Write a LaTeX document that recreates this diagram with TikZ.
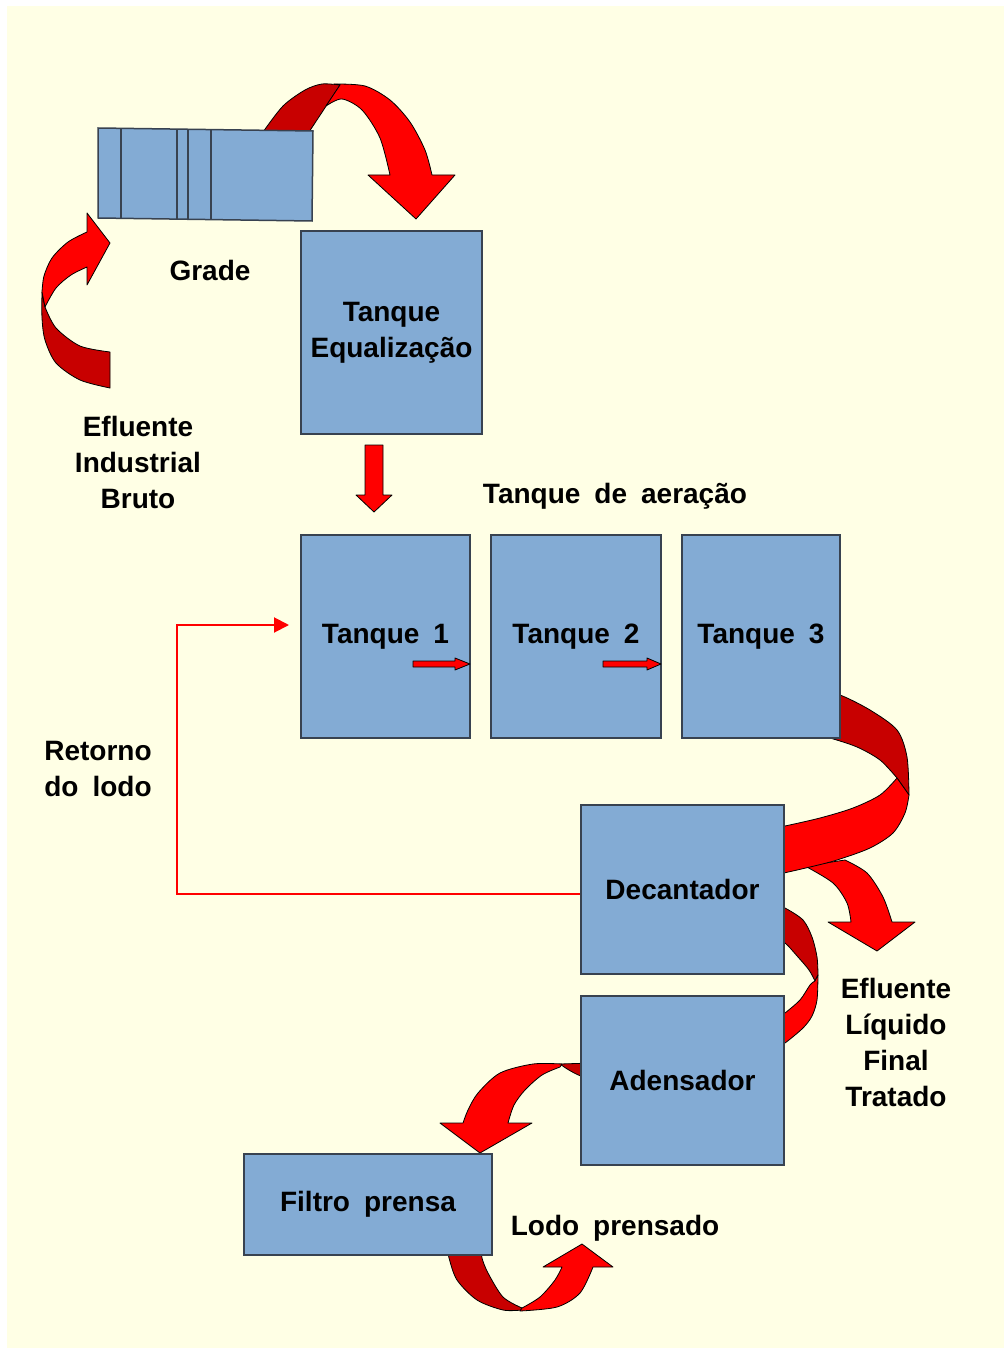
\documentclass[tikz,border=0pt]{standalone}
\usepackage{fontspec}
\setmainfont{Liberation Sans}[WordSpace=1.8]
\usetikzlibrary{arrows.meta}
\definecolor{bg}{RGB}{255,255,229}
\definecolor{boxblue}{RGB}{131,171,212}
\definecolor{boxline}{RGB}{56,66,80}
\definecolor{rred}{RGB}{255,0,0}
\definecolor{dred}{RGB}{200,0,0}
\begin{document}
\begin{tikzpicture}[x=1pt,y=-1pt,
  blk/.style={draw=boxline, fill=boxblue, line width=1.5pt, inner sep=0pt, align=center,
    font=\fontsize{28}{36}\selectfont\bfseries},
  lbl/.style={inner sep=0pt, align=center, font=\fontsize{28}{36}\selectfont\bfseries},
  rib/.style={fill=rred, draw=black, line width=0.8pt, line join=round},
  ribd/.style={fill=dred, draw=black, line width=0.8pt, line join=round},
  ret/.style={draw=rred, line width=2pt, -{Triangle[length=15pt,width=15pt]}}
]
\useasboundingbox (0,0) rectangle (1004,1348);
\fill[bg] (7,6) rectangle (1004,1348);

% ---- left curved arrow (Efluente -> Grade)
\filldraw[ribd] plot[smooth] coordinates {(110,388) (80,380) (56,363) (45,340) (42,318) (42,292)}
  -- plot[smooth] coordinates {(45,307) (56,328) (80,346) (110,352)} -- cycle;
\filldraw[rib] plot[smooth] coordinates {(42,292) (44,276) (52,258) (68,242) (87,232)}
  -- (87,213) -- (110,243) -- (87,285)
  -- plot[smooth] coordinates {(87,267) (71,275) (56,288) (45,307)} -- cycle;

% ---- top curved arrow (Grade -> Equalizacao)
\filldraw[ribd] plot[smooth] coordinates {(263,132) (283,106) (305,90) (322,84) (340,85)}
  -- (309,132) -- cycle;
\filldraw[rib] plot[smooth] coordinates {(334,84) (365,86) (390,100) (410,122) (425,150) (432,175)}
  -- (455,175) -- (416,219) -- (368,175)
  -- plot[smooth] coordinates {(390,175) (380,138) (362,110) (342,99) (326,106)} -- (340,85) -- cycle;

% ---- Grade
\filldraw[draw=boxline, fill=boxblue, line width=1.5pt] (98,128) -- (313,131) -- (312,221) -- (98,218) -- cycle;
\draw[boxline, line width=1.5pt] (121,128.3) -- (121,218.3) (177,129.1) -- (177,219.1)
  (188,129.3) -- (188,219.3) (211,129.6) -- (211,219.6);

% ---- Tanque3 -> Decantador ribbon with branch
\filldraw[rib] plot[smooth] coordinates {(805,866) (833,883) (847,903) (851,922)}
  -- (828,922) -- (877,951) -- (915,922) -- (892,922)
  -- plot[smooth] coordinates {(892,922) (883,897) (867,873) (845,860)} -- cycle;
\filldraw[ribd] plot[smooth] coordinates {(820,692) (840,695) (870,710) (897,730) (907,757) (909,795)}
  -- plot[smooth] coordinates {(897,778) (880,760) (857,747) (830,738) (820,736)} -- cycle;
\filldraw[rib] plot[smooth] coordinates {(909,795) (905,813) (893,833) (870,848) (837,860) (810,867) (775,875)}
  -- (775,828)
  -- plot[smooth] coordinates {(785,826) (820,818) (853,808) (880,795) (897,778)} -- cycle;

% ---- Decantador -> Adensador ribbon
\filldraw[ribd] plot[smooth] coordinates {(775,905) (785,908) (803,920) (812,937) (817,957) (818,975)}
  -- plot[smooth] coordinates {(815,981) (809,970) (798,957) (785,943) (775,940)} -- cycle;
\filldraw[rib] plot[smooth] coordinates {(818,975) (817,1000) (812,1016) (803,1028) (785,1043) (775,1048)}
  -- (775,1015)
  -- plot[smooth] coordinates {(785,1013) (800,1000) (810,985) (815,981)} -- cycle;

% ---- Adensador -> Filtro ribbon
\filldraw[ribd] (592,1063) -- (560,1064) .. controls (568,1070) and (578,1076) .. (592,1080) -- cycle;
\filldraw[rib] plot[smooth] coordinates {(562,1064) (533,1064) (500,1073) (478,1093) (468,1110) (463,1123)}
  -- (440,1123) -- (480,1153) -- (532,1123)
  -- plot[smooth] coordinates {(508,1123) (514,1105) (525,1090) (542,1075) (560,1067)} -- cycle;

% ---- Filtro -> Lodo prensado ribbon
\filldraw[ribd] plot[smooth] coordinates {(448,1250) (449,1258) (457,1280) (477,1300) (503,1310) (522,1310)}
  -- plot[smooth] coordinates {(522,1308) (503,1297) (488,1273) (482,1258) (482,1250)} -- cycle;
\filldraw[rib] plot[smooth] coordinates {(520,1311) (557,1307) (580,1293) (593,1267)}
  -- (613,1267) -- (582,1244) -- (543,1267)
  -- plot[smooth] coordinates {(562,1267) (555,1280) (540,1297) (522,1308)} -- cycle;

% ---- boxes
\node[blk, minimum width=181pt, minimum height=203pt] (eq) at (391.5,332.5) {Tanque\\Equalização};
\node[blk, minimum width=169pt, minimum height=203pt] (t1) at (385.5,636.5) {Tanque 1};
\node[blk, minimum width=170pt, minimum height=203pt] (t2) at (576,636.5) {Tanque 2};
\node[blk, minimum width=158pt, minimum height=203pt] (t3) at (761,636.5) {Tanque 3};
\node[blk, minimum width=203pt, minimum height=169pt] (dec) at (682.5,889.5) {Decantador};
\node[blk, minimum width=203pt, minimum height=169pt] (aden) at (682.5,1080.5) {Adensador};
\node[blk, minimum width=248pt, minimum height=101pt] (filt) at (368,1204.5) {Filtro prensa};

% ---- block arrows
\filldraw[rib] (365,445) -- (383,445) -- (383,495) -- (392,495) -- (374,512) -- (356,495) -- (365,495) -- cycle;
\filldraw[rib] (413,661) -- (455,661) -- (455,658) -- (470,664) -- (455,670) -- (455,667) -- (413,667) -- cycle;
\filldraw[rib] (603,661) -- (647,661) -- (647,658) -- (661,664) -- (647,670) -- (647,667) -- (603,667) -- cycle;

% ---- return line
\coordinate (retB) at (177,625);
\coordinate (retC) at (289,625);
\draw[ret] ([yshift=-4.5pt]dec.west) -| (retB) -- (retC);

% ---- labels
\node[lbl, anchor=base] (lgrade) at (210,280) {Grade};
\node[lbl] (lefl) at (138,462) {Efluente\\Industrial\\Bruto};
\node[lbl, anchor=base] (laer) at (615,503) {Tanque de aeração};
\node[lbl] (lret) at (98,769) {Retorno\\do lodo};
\node[lbl] (lfin) at (896,1042) {Efluente\\Líquido\\Final\\Tratado};
\node[lbl, anchor=base] (llodo) at (615,1235) {Lodo prensado};
\end{tikzpicture}
\end{document}
